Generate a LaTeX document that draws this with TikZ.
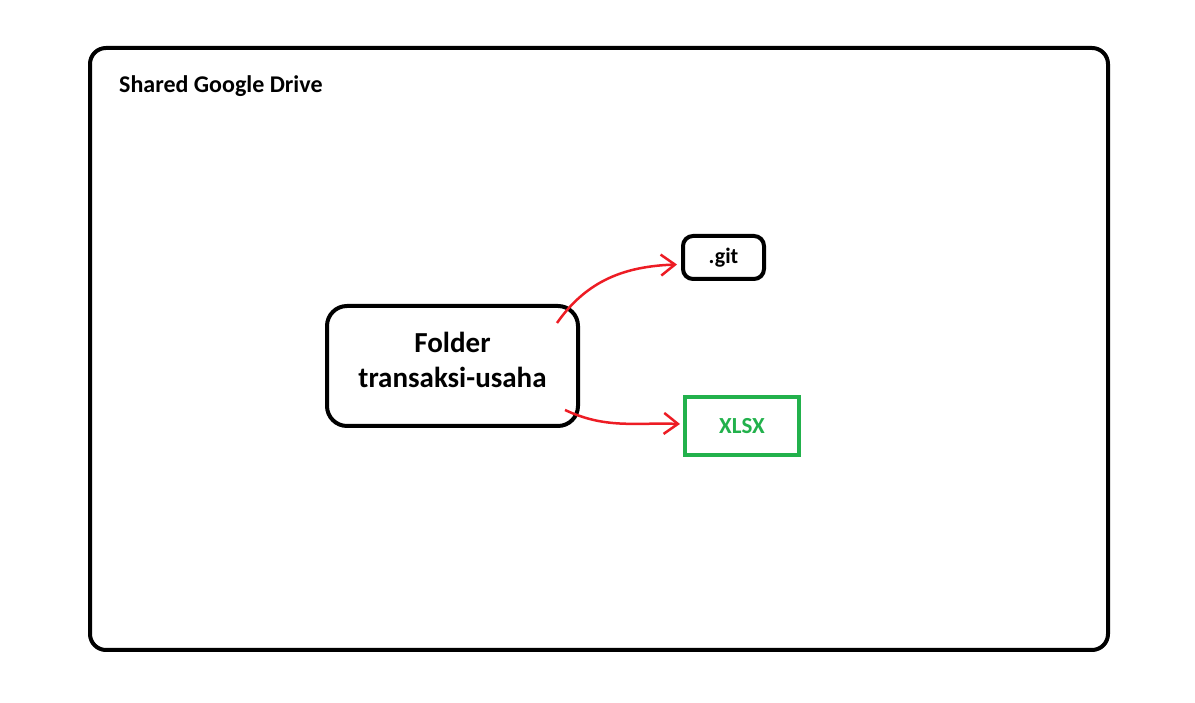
\documentclass[tikz,border=0pt]{standalone}
\usepackage{fontspec}
\setmainfont{Carlito}
\usetikzlibrary{arrows.meta}
\definecolor{paintred}{HTML}{ED1C24}
\definecolor{paintgreen}{HTML}{22B14C}

\begin{document}
\begin{tikzpicture}[x=1pt,y=1pt,
    box/.style={draw, line width=4pt, rounded corners=#1, align=center, font=\bfseries},
    linkarrow/.style={draw=paintred, line width=2.5pt, -{Straight Barb[length=14pt,width=21pt]}}]
  \useasboundingbox (0,0) rectangle (1195,703);
  \node[box=16pt, minimum width=1018pt, minimum height=602pt, inner sep=0pt] (drive) at (599,354) {};
  \node[anchor=west, inner sep=0pt, font=\bfseries\fontsize{24}{27}\selectfont] (title) at (119,617) {Shared Google Drive};
  \node[box=20pt, minimum width=251pt, minimum height=120pt, font=\bfseries\fontsize{29}{35}\selectfont] (folder) at (452.5,337) {Folder\\transaksi-usaha\\[-22pt]};
  \node[box=10pt, minimum width=81pt, minimum height=43pt, font=\bfseries\fontsize{22}{24}\selectfont] (git) at (723.5,445.5) {.git};
  \node[box=0pt, draw=paintgreen, text=paintgreen, minimum width=114pt, minimum height=58pt, font=\bfseries\fontsize{23}{24}\selectfont] (xlsx) at (742,277) {XLSX};
  \draw[linkarrow] ([xshift=-23pt,yshift=-19pt]folder.north east) to[out=55, in=182] ([xshift=-4pt,yshift=-7pt]git.west);
  \draw[linkarrow] ([xshift=-15pt,yshift=18pt]folder.south east) to[out=-25, in=178] ([xshift=-3pt,yshift=2pt]xlsx.west);
\end{tikzpicture}
\end{document}
